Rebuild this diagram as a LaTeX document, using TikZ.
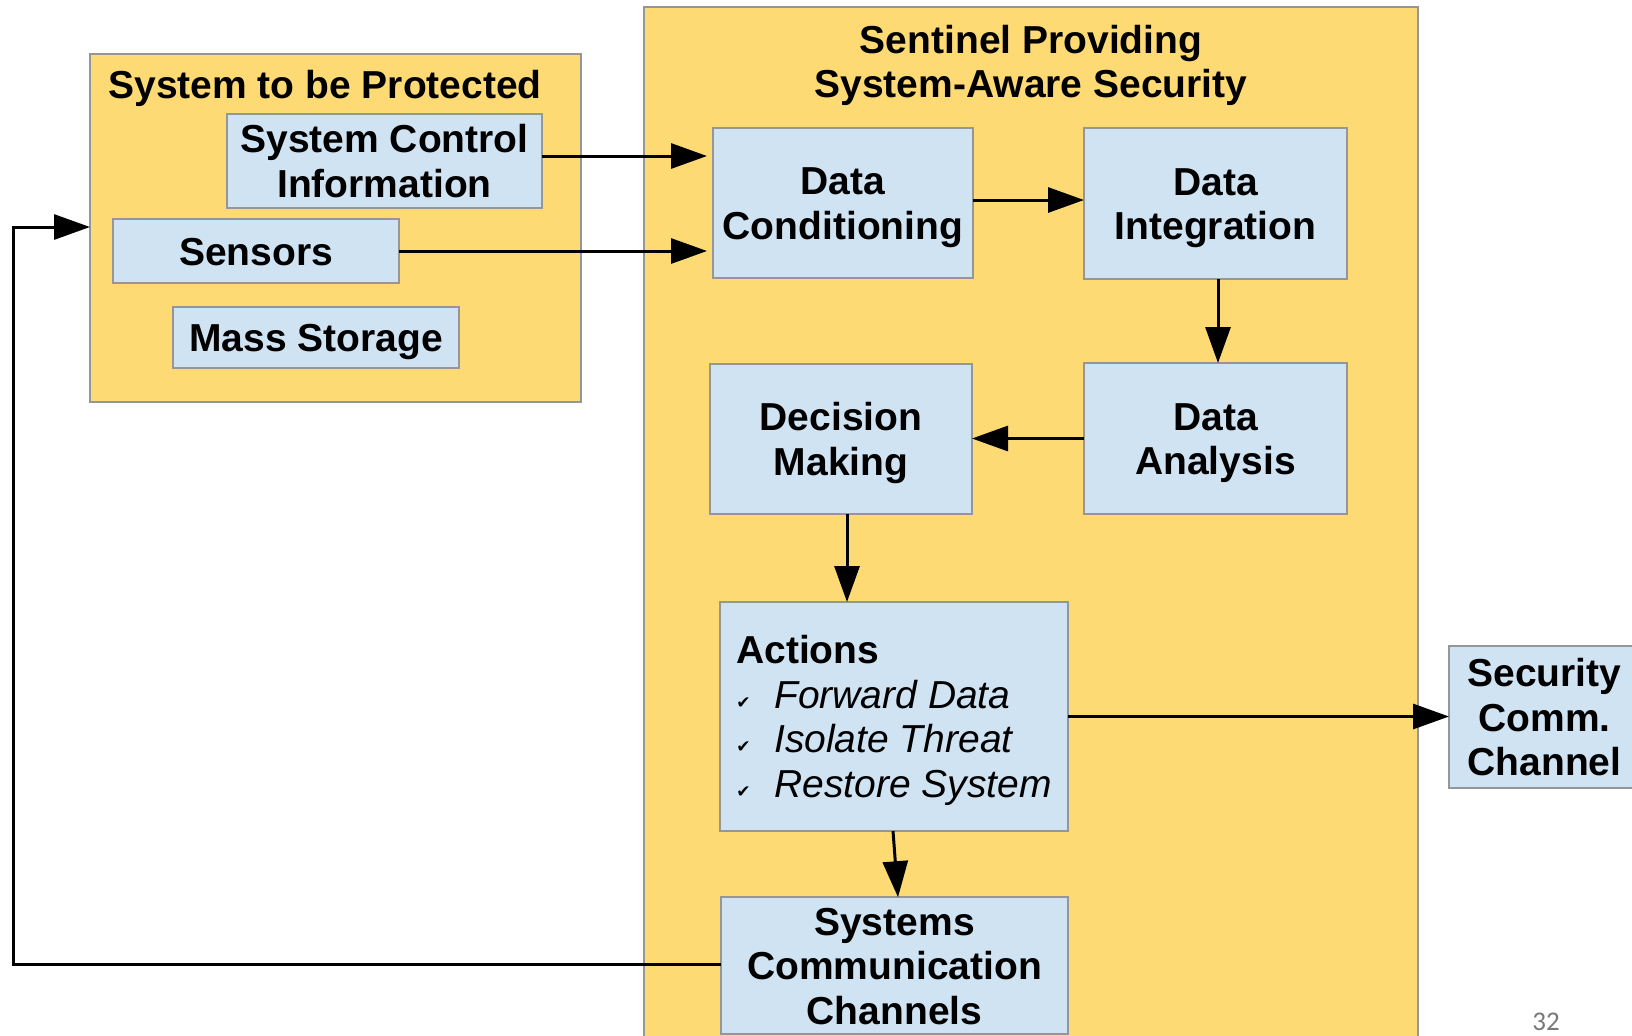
\documentclass[tikz,border=0pt]{standalone}
\usepackage{fontspec}
\setmainfont{Liberation Sans}
\newfontfamily\dejavu{DejaVu Sans}
\newfontfamily\carlito{Carlito}
\usetikzlibrary{arrows.meta}
\definecolor{sysyellow}{RGB}{254,218,117}
\definecolor{sysblue}{RGB}{207,227,243}
\definecolor{sysborder}{RGB}{150,150,150}
\definecolor{pagegray}{RGB}{120,120,120}
\newcommand{\hs}{\vrule height 0.97em depth 0pt width 0pt}
\newcommand{\ds}{\vrule height 0pt depth 0.25em width 0pt}
\newcommand{\ck}{\makebox[19pt][l]{{\dejavu\fontsize{8.5pt}{8.5pt}\selectfont ✔}}}
\begin{document}
\begin{tikzpicture}[x=0.5pt,y=-0.5pt,
  yellowbox/.style={draw=sysborder, fill=sysyellow, line width=0.75pt, inner sep=0pt, outer sep=0pt},
  bluebox/.style={draw=sysborder, fill=sysblue, line width=0.75pt, inner sep=0pt, outer sep=0pt, align=center, font=\bfseries\fontsize{19.5pt}{22.25pt}\selectfont},
  titletext/.style={inner sep=0pt, font=\bfseries\fontsize{19.5pt}{22.25pt}\selectfont},
  arr/.style={line width=1.5pt, -{Triangle[length=18pt,width=12.5pt]}},
  ]
\useasboundingbox[fill=white] (0,0) rectangle (1632,1035);

% containers
\node[yellowbox, minimum width=245.5pt, minimum height=174pt] (L) at (335.5,228) {};
\node[yellowbox, minimum width=387pt, minimum height=526.5pt] (S) at (1031,533.5) {};

% titles
\node[titletext, anchor=base west] (Lt) at (108,98) {System to be Protected};
\node[titletext, anchor=north, align=center] (St) at (1031,15.2) {\hs Sentinel Providing\\System-Aware Security};

% blue boxes
\node[bluebox, minimum width=157.5pt, minimum height=47pt] (SCI) at (384.5,161) {\hs System Control\\Information\ds};
\node[bluebox, minimum width=143pt, minimum height=32pt] (Sen) at (256,251) {\hs Sensors\ds};
\node[bluebox, minimum width=143pt, minimum height=30.5pt] (MS) at (316,337.5) {\hs Mass Storage\ds};
\node[bluebox, minimum width=130pt, minimum height=75pt] (DC) at (843,203) {\hs Data\\Conditioning\ds};
\node[bluebox, minimum width=131.5pt, minimum height=75.5pt] (DI) at (1215.5,203.5) {\hs Data\\Integration\ds};
\node[bluebox, minimum width=131pt, minimum height=75pt] (DM) at (841,439) {\hs Decision\\Making\ds};
\node[bluebox, minimum width=131.5pt, minimum height=75.5pt] (DA) at (1215.5,438.5) {\hs Data\\Analysis\ds};
\node[bluebox, minimum width=174pt, minimum height=114.5pt, align=left] (Act) at (894,716.5)
  {\hs Actions\\\ck{\mdseries\itshape Forward Data}\\\ck{\mdseries\itshape Isolate Threat}\\\ck{\mdseries\itshape Restore System}\ds};
\node[bluebox, minimum width=173.5pt, minimum height=66.5pt] (SCC) at (894.5,965.5) {\hs Systems\\Communication\\Channels\ds};
\node[bluebox, minimum width=95.5pt, minimum height=71pt] (Sec) at (1544.5,717) {\hs Security\\Comm.\\Channel\ds};

% connectors
\draw[arr, shorten >=3pt] ([yshift=2.5pt]SCI.east) -- ([yshift=2.5pt]SCI.east -| DC.west);
\draw[arr, shorten >=3pt] (Sen.east) -- (Sen.east -| DC.west);
\draw[arr] ([yshift=1.5pt]DC.east) -- ([yshift=1.5pt]DC.east -| DI.west);
\draw[arr] ([xshift=1.25pt]DI.south) -- ([xshift=1.25pt]DI.south |- DA.north);
\draw[arr] (DA.west) -- (DA.west -| DM.east);
\draw[arr] ([xshift=3pt]DM.south) -- ([xshift=3pt]DM.south |- Act.north);
\draw[arr] ([xshift=-0.5pt]Act.south) -- ([xshift=1.75pt]SCC.north);
\draw[arr] (Act.east) -- (Act.east -| Sec.west);
\coordinate (fbA) at (13,964);
\coordinate (fbB) at (13,227);
\draw[arr] ([yshift=0.75pt]SCC.west) -- (fbA) -- (fbB) -- (fbB -| L.west);

% page number
\node[anchor=base west, inner sep=0pt, text=pagegray, font=\carlito\fontsize{13.5pt}{15pt}\selectfont] (pg) at (1532,1030) {32};
\end{tikzpicture}
\end{document}
